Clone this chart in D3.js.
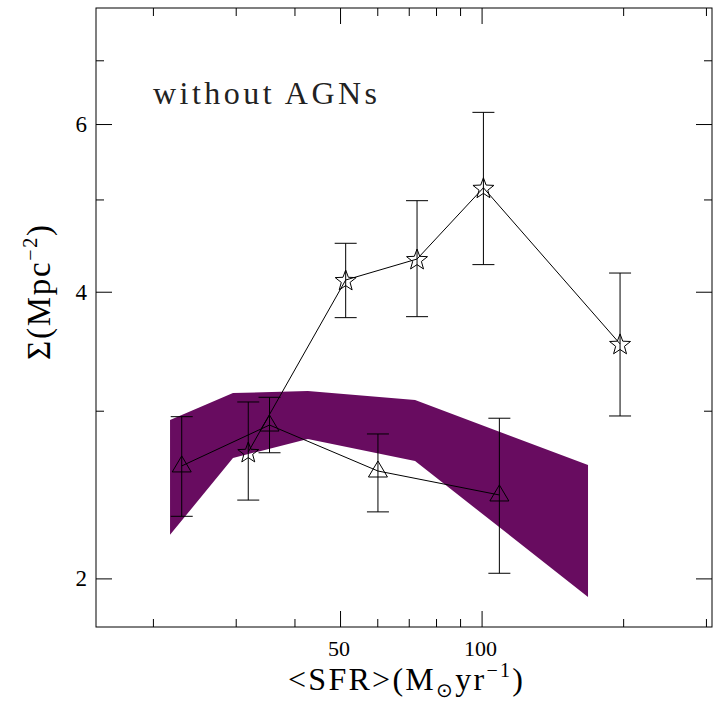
<!DOCTYPE html>
<html><head><meta charset="utf-8">
<script src="https://cdn.jsdelivr.net/npm/d3@7/dist/d3.min.js"></script>
<style>body{margin:0;background:#fff}svg{display:block}</style>
</head><body>
<svg id="c" width="715" height="706"></svg>
<script>
// ---- data ----
const starSFR = [31.9, 51.4, 72.9, 100.9, 197];
const starSigma = [2.715, 4.115, 4.329, 5.143, 3.526];
const starHi = [3.064, 4.497, 4.985, 6.172, 4.185];
const starLo = [2.417, 3.757, 3.766, 4.271, 2.962];

const triSFR = [23.03, 35.4, 60.2, 109.1];
const triSigma = [2.625, 2.898, 2.593, 2.447];
const triHi = [2.957, 3.099, 2.836, 2.946];
const triLo = [2.324, 2.710, 2.349, 2.025];

const bandSFR = [21.75, 29.6, 42.7, 72.2, 168.4];
const bandUpper = [2.934, 3.131, 3.146, 3.079, 2.631];
const bandLower = [2.222, 2.676, 2.802, 2.657, 1.912];

const xMajor = [50, 100];
const xMinor = [20, 30, 40, 60, 70, 80, 90, 200, 300];
const yMajor = [2, 4, 6];
const yMinor = [3, 5, 7];

// ---- layout ----
const L = 96, R = 712, T = 8, B = 627;
const x = d3.scaleLog().domain([Math.pow(10, 1.18), Math.pow(10, 2.49)]).range([L, R]);
const y = d3.scaleLog().domain([Math.pow(10, 0.25), Math.pow(10, 0.9)]).range([B, T]);
const svg = d3.select("#c");
const font = "'Liberation Serif', 'Times New Roman', serif";

// band
const bandPts = bandSFR.map((s, i) => [x(s), y(bandUpper[i])])
  .concat(bandSFR.map((s, i) => [x(s), y(bandLower[i])]).reverse());
svg.append("path").attr("d", d3.line()(bandPts) + "Z").attr("fill", "#680c60");

// frame
svg.append("rect").attr("x", L).attr("y", T).attr("width", R - L).attr("height", B - T)
  .attr("fill", "none").attr("stroke", "#000").attr("stroke-width", 1);

// axes with inward ticks on all sides
function addX(pos, orientFn, vals, len) {
  const ax = orientFn(x).tickValues(vals).tickSize(-len).tickFormat("");
  const g = svg.append("g").attr("transform", `translate(0,${pos})`).call(ax);
  g.select(".domain").remove();
  g.selectAll("line").attr("stroke", "#000");
}
function addY(pos, orientFn, vals, len) {
  const ax = orientFn(y).tickValues(vals).tickSize(-len).tickFormat("");
  const g = svg.append("g").attr("transform", `translate(${pos},0)`).call(ax);
  g.select(".domain").remove();
  g.selectAll("line").attr("stroke", "#000");
}
addX(B, d3.axisBottom, xMajor, 16); addX(B, d3.axisBottom, xMinor, 8);
addX(T, d3.axisTop, xMajor, 16); addX(T, d3.axisTop, xMinor, 8);
addY(L, d3.axisLeft, yMajor, 16); addY(L, d3.axisLeft, yMinor, 8);
addY(R, d3.axisRight, yMajor, 16); addY(R, d3.axisRight, yMinor, 8);

// tick labels
svg.append("g").selectAll("text").data(xMajor).join("text")
  .attr("x", d => x(d) - 1).attr("y", 656).attr("text-anchor", "middle")
  .attr("font-family", font).attr("font-size", 22).text(d => d);
svg.append("g").selectAll("text").data(yMajor).join("text")
  .attr("x", 87).attr("y", d => y(d) + 8).attr("text-anchor", "end")
  .attr("font-family", font).attr("font-size", 23).text(d => d);

// axis titles
const xt = svg.append("text").attr("x", 288).attr("y", 690)
  .attr("font-family", font).attr("font-size", 32)
  .attr("textLength", 235).attr("lengthAdjust", "spacing");
xt.append("tspan").text("<SFR>(M");
xt.append("tspan").attr("font-size", 20).attr("dy", 7).text("\u2299");
xt.append("tspan").attr("dy", -7).text("yr");
xt.append("tspan").attr("font-size", 20).attr("dy", -13).text("\u22121");
xt.append("tspan").attr("dy", 13).text(")");

const yt = svg.append("text").attr("transform", "translate(50,360) rotate(-90)")
  .attr("font-family", font).attr("font-size", 33)
  .attr("textLength", 135).attr("lengthAdjust", "spacing");
yt.append("tspan").text("\u03A3(Mpc");
yt.append("tspan").attr("font-size", 20).attr("dy", -13).text("\u22122");
yt.append("tspan").attr("dy", 13).text(")");

// annotation
svg.append("text").attr("x", 153).attr("y", 104).attr("font-family", font)
  .attr("font-size", 32).attr("textLength", 224).attr("lengthAdjust", "spacing")
  .attr("fill", "#222").text("without AGNs");

// lines
const line = d3.line();
svg.append("path").attr("d", line(starSFR.map((s, i) => [x(s), y(starSigma[i])])))
  .attr("fill", "none").attr("stroke", "#000").attr("stroke-width", 1);
svg.append("path").attr("d", line(triSFR.map((s, i) => [x(s), y(triSigma[i])])))
  .attr("fill", "none").attr("stroke", "#000").attr("stroke-width", 1);

// error bars
function errBars(xs, lo, hi) {
  const g = svg.append("g").attr("stroke", "#000").attr("stroke-width", 1).attr("fill", "none");
  xs.forEach((s, i) => {
    const cx = x(s), y1 = y(lo[i]), y2 = y(hi[i]);
    g.append("line").attr("x1", cx).attr("x2", cx).attr("y1", y1).attr("y2", y2);
    g.append("line").attr("x1", cx - 11).attr("x2", cx + 11).attr("y1", y1).attr("y2", y1);
    g.append("line").attr("x1", cx - 11).attr("x2", cx + 11).attr("y1", y2).attr("y2", y2);
  });
}
errBars(starSFR, starLo, starHi);
errBars(triSFR, triLo, triHi);

// markers
function starPath(Ro, Ri) {
  const pts = [];
  for (let k = 0; k < 10; k++) {
    const a = -Math.PI / 2 + k * Math.PI / 5;
    const r = k % 2 ? Ri : Ro;
    pts.push([r * Math.cos(a), r * Math.sin(a)]);
  }
  return d3.line()(pts) + "Z";
}
svg.append("g").selectAll("path").data(starSFR).join("path")
  .attr("transform", (d, i) => `translate(${x(d)},${y(starSigma[i]) + 1})`)
  .attr("d", starPath(11, 4.6)).attr("fill", "none").attr("stroke", "#000").attr("stroke-width", 1);
const triD = "M0,-10L9.5,6L-9.5,6Z";
svg.append("g").selectAll("path").data(triSFR).join("path")
  .attr("transform", (d, i) => `translate(${x(d)},${y(triSigma[i])})`)
  .attr("d", triD).attr("fill", "none").attr("stroke", "#000").attr("stroke-width", 1);
</script>
</body></html>
